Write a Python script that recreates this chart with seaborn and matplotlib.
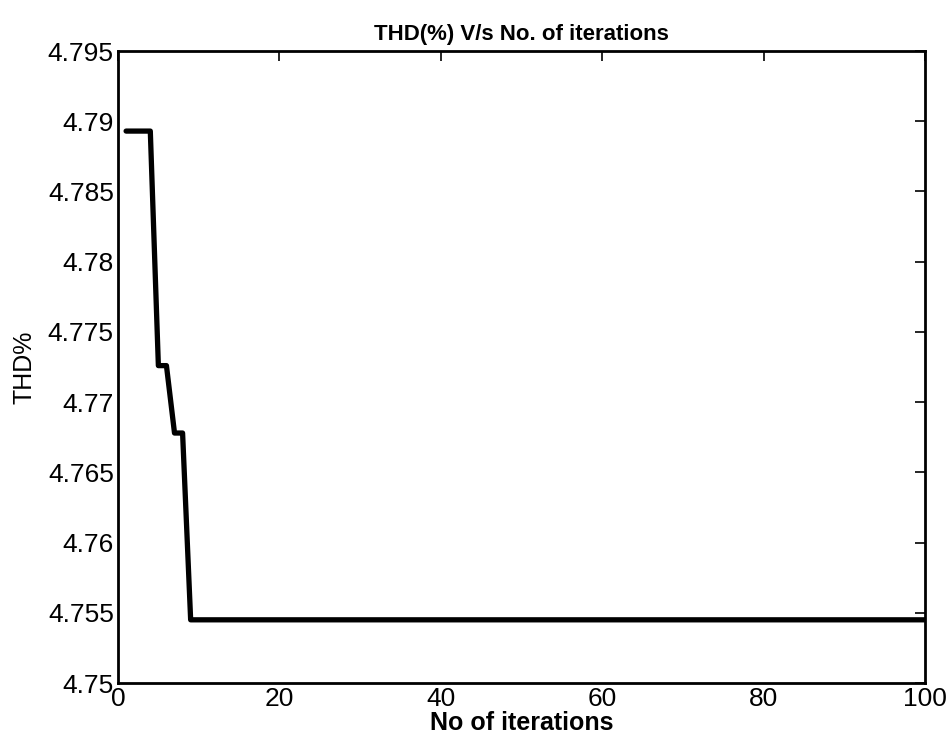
import matplotlib
matplotlib.use("Agg")
import matplotlib.pyplot as plt
import seaborn as sns
import pandas as pd

# dades llegides de la figura
iteracions = list(range(1, 101))
thd_inici = [4.7893, 4.7893, 4.7893, 4.7893]
thd_pas2 = [4.7726, 4.7726]
thd_pas3 = [4.7678, 4.7678]
thd_final = [4.7545] * 92
thd = thd_inici + thd_pas2 + thd_pas3 + thd_final

x_ticks = [0, 20, 40, 60, 80, 100]
y_ticks = [4.75, 4.755, 4.76, 4.765, 4.77, 4.775, 4.78, 4.785, 4.79, 4.795]
y_labels = ["4.75", "4.755", "4.76", "4.765", "4.77", "4.775", "4.78", "4.785", "4.79", "4.795"]

df = pd.DataFrame({"iter": iteracions, "thd": thd})

sns.set_style("white")
plt.rcParams["font.family"] = ["Liberation Sans", "DejaVu Sans"]
plt.rcParams["text.color"] = "black"
plt.rcParams["axes.labelcolor"] = "black"
plt.rcParams["xtick.color"] = "black"
plt.rcParams["ytick.color"] = "black"

fig = plt.figure(figsize=(9.48, 7.45), dpi=100)
ax = fig.add_axes([0.1245, 0.0832, 0.8512, 0.8483])

sns.lineplot(data=df, x="iter", y="thd", color="black", linewidth=3.8, ax=ax)

ax.set_xlim(0, 100)
ax.set_ylim(4.75, 4.795)
ax.set_xticks(x_ticks)
ax.set_yticks(y_ticks)
ax.set_yticklabels(y_labels)
ax.tick_params(direction="in", length=7, width=1.2, top=True, right=True,
               labelsize=19, pad=3)
for s in ax.spines.values():
    s.set_linewidth(2)
    s.set_color("black")

ax.set_title("THD(%) V/s No. of iterations", fontsize=16, fontweight="bold", pad=8)
ax.set_xlabel("No of iterations", fontsize=18, fontweight="bold", labelpad=0)
ax.set_ylabel("THD%", fontsize=18, labelpad=8)

plt.savefig("out.png", dpi=100)
